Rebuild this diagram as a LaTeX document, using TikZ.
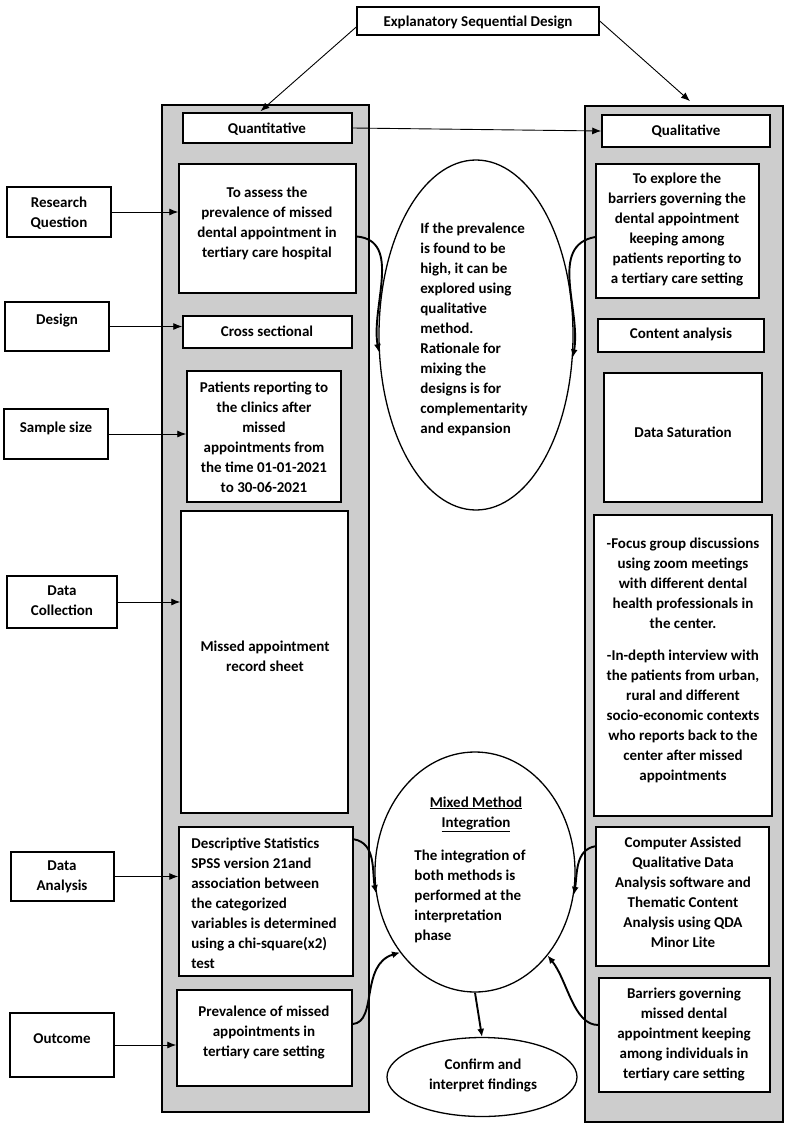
\documentclass[tikz,border=0pt]{standalone}
\usepackage{fontspec}
\setmainfont{Carlito}
\usetikzlibrary{shapes.geometric,arrows.meta}
\definecolor{colgray}{RGB}{205,205,205}
\newcommand\mkbox[6]{%
  \node[#1, minimum width={(#5-#3)*1pt}, minimum height={(#6-#4)*1pt}] (#2) at ({(#3+#5)/2},{(#4+#6)/2}) {};}
\begin{document}
\begin{tikzpicture}[x=1pt,y=-1pt,
  font=\fontsize{15}{20}\selectfont\bfseries,
  box/.style={draw, line width=1.5pt, fill=white, inner sep=0pt},
  col/.style={draw, line width=1.7pt, fill=colgray, inner sep=0pt},
  txt/.style={inner sep=0pt, align=center},
  txtl/.style={inner sep=0pt, align=left},
  arr/.style={line width=0.9pt, -{Latex[length=9pt,width=7pt]}},
  carr/.style={line width=1.9pt, -{Latex[length=8pt,width=7pt]}},
  oval/.style={draw, ellipse, line width=1.3pt, fill=white, inner sep=0pt}]
\useasboundingbox[fill=white] (0,0) rectangle (790,1127);
% columns
\mkbox{col}{lcol}{162}{105}{369}{1112}
\mkbox{col}{rcol}{585}{106}{783}{1122}
% boxes
\mkbox{box}{top}{357}{7}{599}{35}
\mkbox{box}{quant}{183}{113}{352}{143}
\mkbox{box}{qual}{602}{115}{770}{147}
\mkbox{box}{rq}{7}{187}{111}{237}
\mkbox{box}{assess}{179}{164}{356}{293}
\mkbox{box}{design}{5}{302}{109}{351}
\mkbox{box}{cross}{183}{316}{352}{348}
\mkbox{box}{sample}{4}{409}{108}{459}
\mkbox{box}{patients}{187}{371}{341}{502}
\mkbox{box}{dc}{7}{576}{117}{628}
\mkbox{box}{missed}{181}{511}{348}{813}
\mkbox{box}{da}{11}{852}{114}{901}
\mkbox{box}{desc}{179}{827}{353}{976}
\mkbox{box}{outcome}{10}{1013}{114}{1077}
\mkbox{box}{prev}{177}{990}{352}{1086}
\mkbox{box}{explore}{596}{164}{759}{298}
\mkbox{box}{content}{598}{319}{764}{352}
\mkbox{box}{satur}{604}{373}{762}{502}
\mkbox{box}{focus}{594}{515}{772}{816}
\mkbox{box}{computer}{596}{827}{769}{966}
\mkbox{box}{barriers}{599}{978}{770}{1092}
% ellipses
\node[oval, minimum width=194pt, minimum height=350pt] (ell1) at (476,335) {};
\node[oval, minimum width=200pt, minimum height=240pt] (ell2) at (475,872) {};
\node[oval, minimum width=190pt, minimum height=79pt] (confirm) at (482,1077) {};
% texts
\node[txt] (topT) at (478,22) {Explanatory Sequential Design};
\node[txt] (quantT) at (267,129) {Quantitative};
\node[txt] (qualT) at (686,131) {Qualitative};
\node[txt] (rqT) at (59,213) {Research\\Question};
\node[txt] (designT) at (57,321) {Design};
\node[txt] (sampleT) at (56,428) {Sample size};
\node[txt] (dcT) at (62,601) {Data\\Collection};
\node[txt] (daT) at (62,877) {Data\\Analysis};
\node[txt] (outcomeT) at (62,1039) {Outcome};
\node[txt] (assessT) at (267,223) {To assess the\\prevalence of missed\\dental appointment in\\tertiary care hospital};
\node[txt] (crossT) at (267,331) {Cross sectional};
\node[txt] (patientsT) at (264,437) {Patients reporting to\\the clinics after\\missed\\appointments from\\the time 01-01-2021\\to 30-06-2021};
\node[txt] (missedT) at (265,656) {Missed appointment\\record sheet};
\node[txtl] (descT) at (264,903) {Descriptive Statistics\\SPSS version 21and\\association between\\the categorized\\variables is determined\\using a chi-square(x2)\\test};
\node[txt] (prevT) at (264,1032) {Prevalence of missed\\appointments in\\tertiary care setting};
\node[txtl] (ell1T) at (474,329) {If the prevalence\\is found to be\\high, it can be\\explored using\\qualitative\\method.\\Rationale for\\mixing the\\designs is for\\complementarity\\and expansion};
\node[txt] (ell2H) at (476,814) {\underline{Mixed Method}\\\underline{Integration}};
\node[txtl] (ell2T) at (470,896) {The integration of\\both methods is\\performed at the\\interpretation\\phase};
\node[txt] (confirmT) at (483,1075) {Confirm and\\interpret findings};
\node[txt] (exploreT) at (677,230) {To explore the\\barriers governing the\\dental appointment\\keeping among\\patients reporting to\\a tertiary care setting};
\node[txt] (contentT) at (681,334) {Content analysis};
\node[txt] (saturT) at (683,432) {Data Saturation};
\node[txt] (focusT) at (683,660) {-Focus group discussions\\using zoom meetings\\with different dental\\health professionals in\\the center.\\[12pt]-In-depth interview with\\the patients from urban,\\rural and different\\socio-economic contexts\\who reports back to the\\center after missed\\appointments};
\node[txt] (computerT) at (683,892) {Computer Assisted\\Qualitative Data\\Analysis software and\\Thematic Content\\Analysis using QDA\\Minor Lite};
\node[txt] (barriersT) at (684,1034) {Barriers governing\\missed dental\\appointment keeping\\among individuals in\\tertiary care setting};
% straight connectors
\draw[arr] ([yshift=-6pt]top.west) -- ([xshift=-7pt,yshift=1pt]quant.north);
\draw[arr] (top.east) -- ([xshift=6pt,yshift=4pt]rcol.north);
\draw[arr] (quant.east) -- (qual.west);
\draw[arr] (rq.east) -- (rq.east -| assess.west);
\draw[arr] (design.east) -- (design.east -| cross.west);
\draw[arr] (sample.east) -- (sample.east -| patients.west);
\draw[arr] (dc.east) -- (dc.east -| missed.west);
\draw[arr] (da.east) -- (da.east -| desc.west);
\draw[arr] (outcome.east) -- (outcome.east -| prev.west);
% curved connectors
\draw[carr] ([yshift=-8pt]assess.east) to[out=-5,in=100] (ell1.190);
\draw[carr] ([yshift=-6pt]explore.west) to[out=190,in=80] (ell1.-13.5);
\draw[carr] ([yshift=-13pt]desc.north east) to[out=-10,in=100] (ell2.192);
\draw[carr] ([yshift=-20pt]computer.north west) to[out=190,in=80] (ell2.-13);
\draw[carr] ([yshift=14pt]prev.east) .. controls +(25,-2) and +(-40,12) .. (ell2.227);
\draw[carr] ([yshift=10pt]barriers.west) .. controls +(-25,0) and +(20,25) .. (ell2.-49);
\draw[carr] (ell2.south) -- (confirm.north);
\end{tikzpicture}
\end{document}
